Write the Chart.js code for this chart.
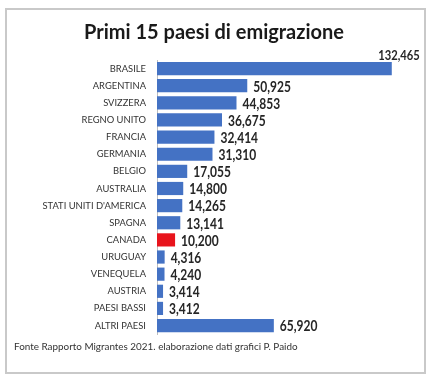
<!DOCTYPE html>
<html>
<head>
<meta charset="utf-8">
<script src="https://cdn.jsdelivr.net/npm/chart.js@4"></script>
<style>
  html, body { margin: 0; padding: 0; background: #fff; }
  #wrap { position: relative; width: 435px; height: 381px; }
  #frame { position: absolute; left: 5px; top: 8px; width: 417px; height: 362px; border: 2px solid #c9c9c9; pointer-events: none; }
  canvas { position: absolute; left: 0; top: 0; }
</style>
</head>
<body>
<div id="wrap">
  <canvas id="chart" width="435" height="381"></canvas>
  <div id="frame"></div>
</div>
<script>
const countries = ['BRASILE', 'ARGENTINA', 'SVIZZERA', 'REGNO UNITO', 'FRANCIA', 'GERMANIA', 'BELGIO', 'AUSTRALIA', "STATI UNITI D'AMERICA", 'SPAGNA', 'CANADA', 'URUGUAY', 'VENEQUELA', 'AUSTRIA', 'PAESI BASSI', 'ALTRI PAESI'];
const emigrants = [132465, 50925, 44853, 36675, 32414, 31310, 17055, 14800, 14265, 13141, 10200, 4316, 4240, 3414, 3412, 65920];
const highlight = 'CANADA';

const font = 'Lato, sans-serif';

// value labels, drawn a bit condensed like the original Calibri
const valueLabels = {
  id: 'valueLabels',
  afterDatasetsDraw(chart) {
    const { ctx } = chart;
    const meta = chart.getDatasetMeta(0);
    meta.data.forEach((bar, i) => {
      const text = emigrants[i].toLocaleString('en-US');
      ctx.save();
      ctx.fillStyle = '#262626';
      ctx.textBaseline = 'middle';
      if (i === 0) {
        ctx.font = 'bold 14px ' + font;
        ctx.textAlign = 'right';
        ctx.translate(bar.x + 28, bar.y - 13);
      } else {
        ctx.font = 'bold 15px ' + font;
        ctx.textAlign = 'left';
        ctx.translate(bar.x + 6, bar.y + 1);
      }
      ctx.scale(0.8, 1);
      ctx.fillText(text, 0, 0);
      ctx.restore();
    });
  }
};

new Chart(document.getElementById('chart'), {
  type: 'bar',
  data: {
    labels: countries,
    datasets: [{
      data: emigrants,
      backgroundColor: countries.map((c) => c === highlight ? '#e8141c' : '#4472c4'),
      categoryPercentage: 1,
      barPercentage: 0.77,
    }],
  },
  options: {
    indexAxis: 'y',
    responsive: false,
    animation: false,
    layout: { padding: { left: 14, right: 21, top: 20, bottom: 28 } },
    plugins: {
      legend: { display: false },
      tooltip: { enabled: false },
      title: {
        display: true,
        text: 'Primi 15 paesi di emigrazione',
        color: '#1a1a1a',
        font: { family: font, size: 20, weight: 'bold' },
        padding: { top: 1, bottom: 15 },
      },
      subtitle: {
        display: true,
        position: 'bottom',
        align: 'start',
        text: 'Fonte Rapporto Migrantes 2021. elaborazione dati grafici P. Paido',
        color: '#333',
        font: { family: font, size: 9.9 },
        padding: { top: 7, bottom: 0 },
      },
    },
    scales: {
      x: { display: false, min: 0, max: 145000 },
      y: {
        grid: { display: false, drawTicks: false },
        border: { display: true, color: '#bdbdbd', width: 1 },
        ticks: { color: '#333', padding: 11, font: { family: font, size: 9.4 } },
        afterFit(axis) { axis.width = 143; },
      },
    },
  },
  plugins: [valueLabels],
});
</script>
</body>
</html>
